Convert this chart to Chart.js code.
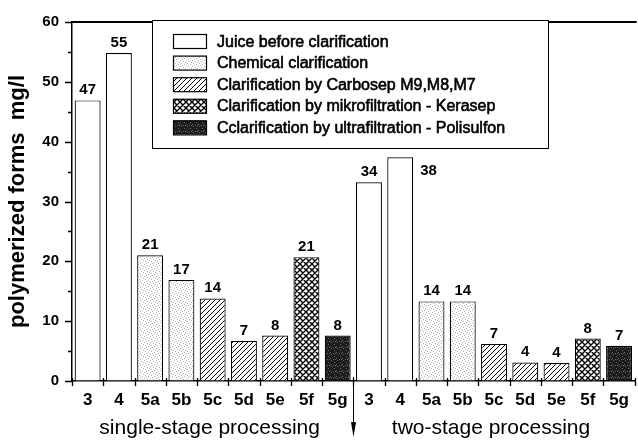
<!DOCTYPE html>
<html>
<head>
<meta charset="utf-8">
<script src="https://cdn.jsdelivr.net/npm/chart.js@4.4.1/dist/chart.umd.min.js"></script>
<style>
  body { margin: 0; background: #fff; }
</style>
</head>
<body>
<canvas id="chart" width="638" height="444"></canvas>
<script>
const categories = ['3', '4', '5a', '5b', '5c', '5d', '5e', '5f', '5g', '3', '4', '5a', '5b', '5c', '5d', '5e', '5f', '5g'];
const values = [46.9, 54.8, 21.0, 16.9, 13.8, 6.7, 7.6, 20.7, 7.6, 33.2, 37.4, 13.3, 13.3, 6.2, 3.1, 3.0, 7.1, 5.9];
const valueLabels = ['47', '55', '21', '17', '14', '7', '8', '21', '8', '34', '38', '14', '14', '7', '4', '4', '8', '7'];
const methods = ['juice', 'juice', 'chem', 'chem', 'carbo', 'carbo', 'carbo', 'mikro', 'ultra',
                 'juice', 'juice', 'chem', 'chem', 'carbo', 'carbo', 'carbo', 'mikro', 'ultra'];
const legendKeys = ['juice', 'chem', 'carbo', 'mikro', 'ultra'];
const legendLabels = [
    'Juice before clarification',
    'Chemical clarification',
    'Clarification by Carbosep M9,M8,M7',
    'Clarification by mikrofiltration - Kerasep',
    'Cclarification by ultrafiltration - Polisulfon'
];
const groupTitles = ['single-stage processing', 'two-stage processing'];
const groupSize = 9;
const yTitle = 'polymerized forms  mg/l';

const FONT = "'Liberation Sans', Arial, sans-serif";

document.addEventListener('DOMContentLoaded', function() {

    function makePattern(kind) {
        const c = document.createElement('canvas');
        const s = kind === 'carbo' ? 5 : 6;
        c.width = s;
        c.height = s;
        const g = c.getContext('2d');
        g.fillStyle = kind === 'ultra' ? '#1c1c1c' : '#fff';
        g.fillRect(0, 0, s, s);
        if (kind === 'chem') {
            g.fillStyle = '#b0b0b0';
            [[0, 0], [3, 1], [1, 3], [4, 4], [5, 2], [2, 5]].forEach(p => g.fillRect(p[0], p[1], 1, 1));
        }
        if (kind === 'ultra') {
            g.fillStyle = '#6a6a6a';
            [[1, 0], [4, 2], [0, 4], [3, 5], [5, 5]].forEach(p => g.fillRect(p[0], p[1], 1, 1));
        }
        if (kind === 'carbo' || kind === 'mikro') {
            g.strokeStyle = '#000';
            g.lineWidth = kind === 'mikro' ? 1.4 : 1;
            g.beginPath();
            g.moveTo(-1, s + 1); g.lineTo(s + 1, -1);
            g.moveTo(-1, 1); g.lineTo(1, -1);
            g.moveTo(s - 1, s + 1); g.lineTo(s + 1, s - 1);
            if (kind === 'mikro') {
                g.moveTo(-1, -1); g.lineTo(s + 1, s + 1);
                g.moveTo(s - 1, -1); g.lineTo(s + 1, 1);
                g.moveTo(-1, s - 1); g.lineTo(1, s + 1);
            }
            g.stroke();
        }
        return g.createPattern(c, 'repeat');
    }

    const patterns = {};
    legendKeys.forEach(k => { patterns[k] = makePattern(k); });

    const legendBox = { left: 152, top: 20, right: 548, bottom: 148 };

    const decor = {
        id: 'decor',
        afterDatasetsDraw(chart) {
            const ctx = chart.ctx;
            const bars = chart.getDatasetMeta(0).data;
            ctx.save();
            ctx.fillStyle = '#000';
            ctx.font = `bold 15px ${FONT}`;
            bars.forEach((bar, i) => {
                const w = ctx.measureText(valueLabels[i]).width;
                const base = bar.y - 6;
                const clash = base - 12 < legendBox.bottom &&
                    bar.x + w / 2 > legendBox.left && bar.x - w / 2 < legendBox.right;
                if (clash) {
                    ctx.textAlign = 'left';
                    ctx.fillText(valueLabels[i], bar.x + bar.width / 2 + 7, bar.y + 18);
                } else {
                    ctx.textAlign = 'center';
                    ctx.fillText(valueLabels[i], bar.x, base);
                }
            });
            ctx.restore();
        },
        afterDraw(chart) {
            const ctx = chart.ctx;
            const area = chart.chartArea;
            const x = chart.scales.x;
            const y = chart.scales.y;
            ctx.save();
            ctx.strokeStyle = '#000';

            // linea superior del marco
            ctx.lineWidth = 2;
            ctx.beginPath();
            ctx.moveTo(area.left, area.top);
            ctx.lineTo(area.right + 2, area.top);
            ctx.stroke();

            // marcas del eje x entre barras
            ctx.lineWidth = 1.3;
            ctx.beginPath();
            for (let i = 0; i <= categories.length; i++) {
                const px = Math.round(x.getPixelForValue(i - 0.5)) + 0.5;
                ctx.moveTo(px, area.bottom - 3);
                ctx.lineTo(px, area.bottom + 5);
            }
            ctx.stroke();

            // marcas del eje y (mayores y menores)
            ctx.beginPath();
            y.ticks.forEach((t, i) => {
                const py = Math.round(y.getPixelForValue(t.value)) + 0.5;
                ctx.moveTo(area.left - 7, py);
                ctx.lineTo(area.left, py);
                if (i < y.ticks.length - 1) {
                    const pm = Math.round(y.getPixelForValue((t.value + y.ticks[i + 1].value) / 2)) + 0.5;
                    ctx.moveTo(area.left - 4, pm);
                    ctx.lineTo(area.left, pm);
                }
            });
            ctx.stroke();

            // flecha divisoria
            const div = Math.round(x.getPixelForValue(groupSize - 0.5)) + 0.5;
            ctx.lineWidth = 1;
            ctx.beginPath();
            ctx.moveTo(div, area.bottom - 4);
            ctx.lineTo(div, 432);
            ctx.stroke();
            ctx.fillStyle = '#000';
            ctx.beginPath();
            ctx.moveTo(div, 437);
            ctx.lineTo(div - 2.5, 422);
            ctx.lineTo(div + 2.5, 422);
            ctx.closePath();
            ctx.fill();

            // titulos de grupo
            ctx.font = `21px ${FONT}`;
            ctx.textAlign = 'center';
            ctx.textBaseline = 'alphabetic';
            groupTitles.forEach((t, g) => {
                const a = x.getPixelForValue(g * groupSize);
                const b = x.getPixelForValue(g * groupSize + groupSize - 1);
                ctx.fillText(t, (a + b) / 2 - 3, 434);
            });

            // leyenda
            ctx.fillStyle = '#fff';
            ctx.fillRect(legendBox.left, legendBox.top, legendBox.right - legendBox.left, legendBox.bottom - legendBox.top);
            ctx.lineWidth = 1;
            ctx.strokeRect(legendBox.left + 0.5, legendBox.top + 0.5, legendBox.right - legendBox.left, legendBox.bottom - legendBox.top);
            ctx.font = `16px ${FONT}`;
            ctx.textAlign = 'left';
            ctx.textBaseline = 'alphabetic';
            legendKeys.forEach((k, i) => {
                const base = 46.5 + i * 21.6;
                const cy = base - 5.5;
                ctx.fillStyle = patterns[k];
                ctx.fillRect(173, cy - 7, 33, 14);
                ctx.lineWidth = 1.2;
                ctx.strokeRect(173.5, cy - 6.5, 33, 14);
                ctx.fillStyle = '#000';
                ctx.lineWidth = 0.6;
                ctx.fillText(legendLabels[i], 217, base);
                ctx.strokeText(legendLabels[i], 217, base);
            });
            ctx.restore();
        }
    };

    const ctx = document.getElementById('chart').getContext('2d');
    new Chart(ctx, {
        type: 'bar',
        data: {
            labels: categories,
            datasets: [{
                data: values,
                backgroundColor: methods.map(m => patterns[m]),
                borderColor: '#000',
                borderWidth: 1.2,
                barPercentage: 0.83,
                categoryPercentage: 1
            }]
        },
        options: {
            responsive: false,
            animation: false,
            layout: { padding: { top: 18, right: 1, left: 0, bottom: 0 } },
            plugins: {
                legend: { display: false },
                tooltip: { enabled: false }
            },
            scales: {
                x: {
                    ticks: {
                        color: '#000',
                        font: { family: FONT, size: 17, weight: 'bold' },
                        padding: 9,
                        autoSkip: false,
                        maxRotation: 0
                    },
                    grid: { drawOnChartArea: false, drawTicks: false },
                    border: { color: '#000', width: 1.5 },
                    afterFit(scale) { scale.height = 63; }
                },
                y: {
                    min: 0,
                    max: 60,
                    ticks: {
                        stepSize: 10,
                        color: '#000',
                        font: { family: FONT, size: 15, weight: 'bold' },
                        padding: 13
                    },
                    grid: { drawOnChartArea: false, drawTicks: false },
                    border: { color: '#000', width: 1.5 },
                    title: {
                        display: true,
                        text: yTitle,
                        color: '#000',
                        font: { family: FONT, size: 22, weight: 'bold' },
                        padding: { top: 5, bottom: 0 }
                    },
                    afterFit(scale) { scale.width = 72; }
                }
            }
        },
        plugins: [decor]
    });
});
</script>
</body>
</html>
